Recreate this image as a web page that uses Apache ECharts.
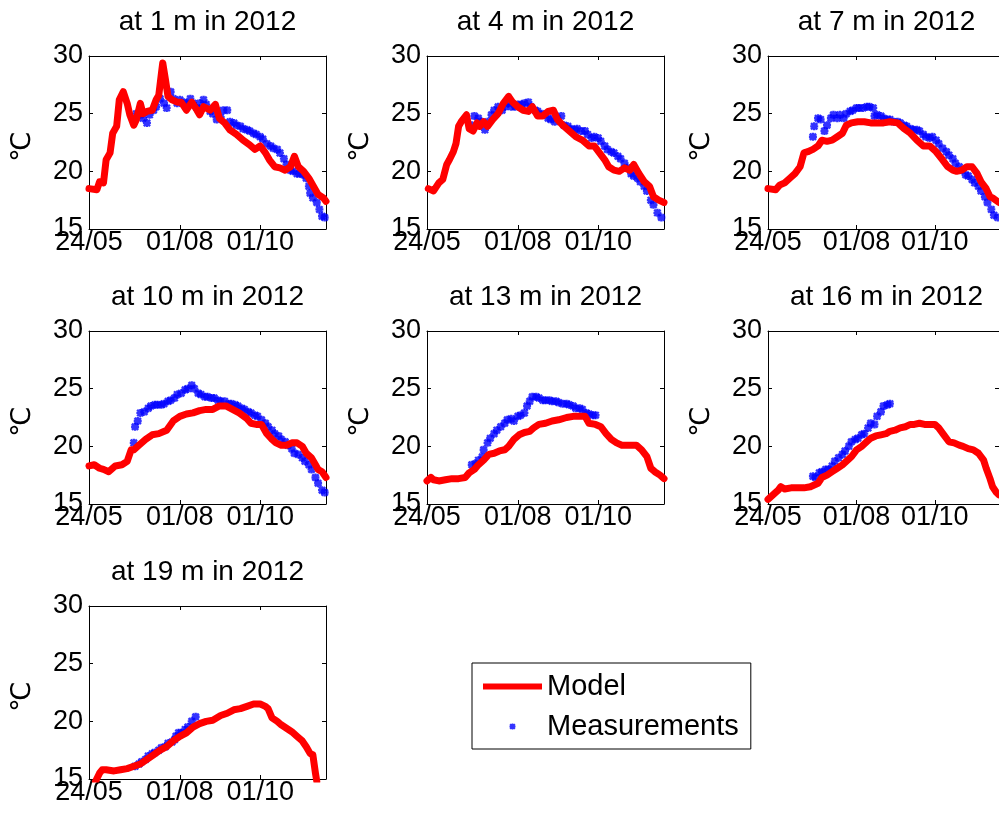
<!DOCTYPE html>
<html>
<head>
<meta charset="utf-8">
<title>Model vs measurements 2012</title>
<script src="https://cdn.jsdelivr.net/npm/echarts@6/dist/echarts.min.js"></script>
<style>
  html, body { margin: 0; padding: 0; background: #fff; }
  #chart { width: 999px; height: 818px; }
</style>
</head>
<body>
<div id="chart"></div>
<script>
// x is day of year 2012 (24/05 = 145, 01/08 = 214, 01/10 = 275)
var dayMin = 145, dayMax = 325;
var tickDays = [145, 214, 275];
var tickLabels = ['24/05', '01/08', '01/10'];
var tempMin = 15, tempMax = 30, tempStep = 5;
var depths = [1, 4, 7, 10, 13, 16, 19];

var model1 = [[145,18.5],[151,18.4],[153,19.1],[156,19.0],[158,21.0],[161,21.6],[163,23.3],[166,23.9],[168,26.2],[171,26.9],[174,25.9],[176,24.9],[179,24.0],[181,24.5],[184,25.9],[186,25.0],[189,25.2],[193,25.3],[196,26.2],[198,26.6],[200,28.5],[201,29.4],[202,29.3],[203,28.0],[205,26.5],[208,26.2],[212,26.0],[215,26.0],[219,25.3],[223,26.0],[227,25.3],[229,24.9],[232,25.6],[237,25.3],[241,25.8],[244,24.6],[248,24.2],[252,23.6],[257,23.2],[262,22.7],[267,22.3],[271,21.9],[275,22.2],[279,21.6],[282,21.0],[286,20.4],[290,20.3],[294,20.1],[298,20.4],[301,21.3],[304,20.4],[308,20.0],[312,19.4],[315,18.8],[319,18.0],[323,17.7],[325,17.4]];
var meas1 = [[179,24.3],[181,25.0],[184,24.9],[186,24.6],[189,24.2],[191,24.9],[194,25.3],[196,25.6],[199,26.3],[202,25.9],[204,25.5],[207,26.9],[209,26.3],[212,25.9],[214,26.2],[217,26.0],[219,25.9],[222,26.3],[224,25.9],[227,25.5],[229,25.9],[232,26.2],[234,25.8],[237,25.2],[239,25.0],[242,24.5],[245,24.7],[247,25.3],[250,25.3],[252,24.3],[255,24.2],[257,24.0],[260,23.9],[262,23.7],[265,23.6],[267,23.5],[270,23.3],[272,23.2],[275,23.0],[277,22.8],[280,22.4],[283,22.2],[285,22.0],[288,21.9],[290,21.6],[293,21.1],[295,20.6],[298,20.1],[300,20.0],[303,19.8],[305,19.8],[308,19.7],[310,19.4],[312,18.7],[313,18.1],[315,17.7],[318,17.3],[320,16.7],[322,16.1],[324,16.0]];

var model4 = [[146,18.5],[150,18.3],[154,19.0],[157,19.3],[160,20.6],[162,21.0],[165,21.7],[167,22.4],[169,23.9],[171,24.3],[175,24.9],[177,23.7],[180,23.5],[183,24.2],[185,23.9],[188,24.3],[191,23.9],[195,24.5],[199,25.0],[203,25.9],[207,26.5],[210,26.0],[214,25.6],[218,25.3],[222,25.2],[225,25.6],[229,24.8],[233,24.8],[237,25.2],[241,25.3],[244,24.5],[248,24.0],[253,23.5],[258,23.0],[263,22.7],[268,22.2],[272,22.2],[276,21.6],[280,21.0],[283,20.4],[287,20.1],[291,20.0],[295,20.3],[299,20.1],[302,20.6],[306,19.8],[310,19.1],[314,18.7],[317,17.8],[321,17.5],[325,17.3]];
var meas4 = [[179,24.0],[181,24.8],[184,24.6],[186,24.3],[189,23.6],[191,24.3],[194,24.9],[196,25.3],[199,25.6],[202,25.3],[204,25.6],[207,25.9],[209,25.6],[212,25.6],[214,25.8],[217,25.8],[219,25.9],[222,26.0],[224,25.6],[227,25.3],[229,25.2],[232,25.0],[234,24.9],[237,24.6],[239,24.5],[242,24.3],[244,24.6],[247,24.8],[249,24.0],[252,23.9],[254,23.7],[257,23.6],[259,23.7],[262,23.5],[265,23.5],[267,23.2],[270,22.9],[272,23.0],[275,22.9],[277,22.6],[280,22.2],[282,21.9],[285,21.7],[287,21.6],[290,21.3],[292,21.1],[295,20.7],[297,20.3],[300,19.8],[302,19.6],[305,19.4],[307,19.1],[310,18.7],[312,18.3],[315,17.5],[317,17.1],[320,16.4],[323,16.0]];

var model7 = [[145,18.5],[151,18.4],[154,18.8],[158,19.0],[162,19.4],[166,19.8],[170,20.4],[173,21.6],[176,21.7],[180,21.9],[184,22.2],[187,22.7],[191,22.6],[195,22.7],[199,23.0],[203,23.3],[206,24.0],[210,24.2],[215,24.3],[220,24.3],[225,24.2],[230,24.2],[235,24.2],[240,24.3],[246,24.2],[251,23.7],[256,23.3],[261,22.7],[266,22.2],[271,22.2],[276,21.7],[281,21.0],[285,20.4],[289,20.1],[292,20.0],[296,20.1],[300,20.4],[304,20.4],[308,19.8],[311,19.1],[315,18.5],[318,17.8],[320,17.7],[325,17.3]];
var meas7 = [[180,23.0],[181,23.9],[184,24.6],[186,24.5],[189,23.5],[191,24.0],[194,24.6],[196,24.9],[199,24.6],[201,24.9],[204,24.6],[206,25.0],[209,25.2],[211,25.3],[214,25.5],[216,25.5],[219,25.5],[222,25.6],[224,25.6],[227,25.5],[228,24.8],[230,24.9],[233,24.8],[235,24.6],[238,24.5],[240,24.5],[243,24.3],[246,24.3],[248,24.2],[251,24.0],[253,23.9],[256,23.7],[258,23.6],[261,23.6],[263,23.5],[266,23.2],[268,23.0],[271,22.9],[273,23.0],[276,22.7],[278,22.4],[281,22.0],[284,21.7],[286,21.4],[289,21.1],[291,20.7],[294,20.4],[296,20.1],[299,19.7],[301,19.6],[304,19.3],[306,19.0],[309,18.7],[311,18.3],[314,17.8],[316,17.3],[319,16.7],[321,16.2],[324,16.0]];

var model10 = [[145,18.3],[149,18.4],[153,18.1],[156,18.0],[160,17.8],[165,18.3],[170,18.4],[174,18.7],[177,19.7],[179,19.7],[183,20.1],[188,20.6],[193,21.0],[198,21.1],[204,21.4],[209,22.2],[214,22.6],[219,22.8],[224,22.9],[229,23.1],[234,23.2],[239,23.2],[244,23.5],[249,23.5],[254,23.2],[259,22.9],[265,22.4],[268,22.0],[272,21.9],[276,21.9],[280,21.1],[284,20.6],[287,20.3],[291,20.1],[295,20.1],[299,20.3],[303,20.3],[307,20.0],[310,19.4],[314,19.0],[317,18.4],[319,18.0],[322,17.8],[325,17.3]];
var meas10 = [[179,20.3],[180,21.7],[182,22.2],[184,22.9],[187,23.0],[190,23.3],[192,23.5],[195,23.6],[197,23.6],[200,23.6],[202,23.7],[205,23.9],[207,24.0],[210,24.2],[212,24.5],[215,24.6],[218,24.9],[220,25.0],[223,25.3],[225,25.0],[228,24.6],[230,24.5],[233,24.3],[235,24.3],[238,24.2],[240,24.2],[243,24.0],[245,23.9],[248,23.9],[251,23.7],[253,23.7],[256,23.6],[258,23.5],[261,23.3],[263,23.2],[266,23.0],[268,22.9],[271,22.7],[273,22.6],[276,22.3],[279,22.0],[281,21.7],[284,21.4],[286,21.1],[289,20.9],[291,20.6],[294,20.4],[296,20.1],[299,19.8],[301,19.4],[304,19.3],[307,19.0],[309,18.7],[312,18.4],[314,18.0],[317,17.3],[319,16.8],[322,16.2],[324,16.0]];

var model13 = [[145,17.0],[148,17.3],[150,17.1],[154,17.0],[159,17.1],[164,17.2],[169,17.2],[174,17.3],[177,17.7],[181,18.0],[184,18.4],[188,18.8],[192,19.3],[196,19.4],[200,19.6],[204,19.7],[207,20.0],[211,20.6],[215,21.0],[219,21.2],[223,21.3],[226,21.6],[230,21.9],[235,22.0],[240,22.2],[245,22.3],[251,22.5],[256,22.6],[261,22.6],[265,22.6],[268,22.0],[273,21.9],[277,21.7],[281,21.1],[285,20.6],[289,20.3],[293,20.1],[296,20.1],[300,20.1],[304,20.1],[308,19.7],[312,19.1],[315,18.1],[318,17.8],[322,17.5],[325,17.2]];
var meas13 = [[179,18.4],[182,18.5],[184,18.8],[187,19.1],[188,19.7],[191,20.3],[193,20.7],[196,21.1],[198,21.4],[201,21.7],[204,22.0],[206,22.3],[209,22.4],[211,22.2],[214,22.6],[216,22.7],[219,22.9],[221,23.5],[223,23.9],[225,24.3],[228,24.3],[230,24.2],[233,24.0],[235,24.0],[238,24.0],[240,23.9],[243,23.9],[245,23.8],[248,23.7],[251,23.7],[253,23.6],[256,23.5],[258,23.3],[261,23.3],[263,23.2],[266,22.9],[268,22.8],[271,22.7],[273,22.7]];

var model16 = [[145,15.4],[148,15.7],[151,16.0],[153,16.2],[155,16.5],[158,16.3],[163,16.4],[168,16.4],[173,16.4],[178,16.5],[184,16.8],[187,17.3],[191,17.5],[195,17.8],[199,18.1],[203,18.4],[206,18.7],[210,19.1],[214,19.7],[218,20.0],[222,20.4],[225,20.7],[229,20.9],[233,21.0],[237,21.1],[240,21.3],[244,21.4],[248,21.6],[252,21.7],[256,21.9],[259,21.9],[263,22.0],[267,21.9],[271,21.9],[275,21.9],[278,21.6],[282,21.0],[286,20.4],[290,20.3],[294,20.1],[297,20.0],[301,19.8],[305,19.7],[309,19.4],[313,18.8],[315,18.1],[318,17.2],[320,16.5],[323,16.0],[325,15.8]];
var meas16 = [[180,17.4],[182,17.3],[185,17.7],[187,17.8],[190,18.0],[192,18.0],[195,18.3],[197,18.7],[200,19.0],[203,19.3],[205,19.6],[208,20.0],[210,20.4],[213,20.6],[215,20.7],[218,21.0],[220,21.1],[223,21.6],[225,22.0],[228,21.9],[230,22.6],[233,23.0],[235,23.5],[238,23.6],[240,23.7]];

var model19 = [[150,14.8],[153,15.5],[155,15.8],[158,15.8],[164,15.7],[169,15.8],[174,15.9],[179,16.1],[184,16.3],[189,16.7],[194,17.1],[199,17.5],[204,17.8],[209,18.3],[214,18.7],[219,19.0],[224,19.5],[229,19.8],[234,20.0],[239,20.1],[245,20.5],[250,20.7],[255,21.0],[260,21.1],[265,21.3],[270,21.5],[275,21.5],[279,21.3],[281,21.1],[284,20.3],[288,20.0],[291,19.7],[295,19.4],[299,19.1],[303,18.7],[307,18.3],[310,17.8],[313,17.2],[315,17.1],[317,15.5],[318,14.8]];
var meas19 = [[180,16.1],[183,16.3],[185,16.5],[188,16.7],[190,17.0],[193,17.2],[195,17.3],[198,17.5],[200,17.7],[203,17.8],[205,18.1],[208,18.2],[210,18.4],[211,18.7],[213,19.0],[215,19.0],[218,19.3],[220,19.5],[223,20.0],[226,20.4]];

var modelData = [model1, model4, model7, model10, model13, model16, model19];
var measData = [meas1, meas4, meas7, meas10, meas13, meas16, meas19];

// layout of the 3x3 panel grid
var colLeft = [89, 427, 768];
var rowTop = [56, 331, 606];
var plotW = 237, plotH = 173;
var font = "'Liberation Sans', Arial, Helvetica, sans-serif";
var star = 'path://M3.5 0h3v10h-3zM0 3.5h10v3h-10zM0 2.1L2.1 0L10 7.9L7.9 10ZM7.9 0L10 2.1L2.1 10L0 7.9Z';

var myChart = echarts.init(document.getElementById('chart'));

var grids = [], xAxes = [], yAxes = [], series = [], texts = [];
depths.forEach(function (d, i) {
    var left = colLeft[i % 3], top = rowTop[Math.floor(i / 3)];
    var line = { show: true, onZero: false, lineStyle: { color: '#000', width: 1 } };
    var tickStyle = { color: '#000', width: 1 };
    grids.push({ left: left, top: top, width: plotW, height: plotH });

    // bottom + top (mirror) x axes
    xAxes.push({
        type: 'value', gridIndex: i, position: 'bottom', min: dayMin, max: dayMax,
        axisLine: line,
        axisTick: { show: true, inside: true, length: 4, customValues: tickDays, lineStyle: tickStyle },
        axisLabel: {
            customValues: tickDays, margin: 0, color: '#000', fontSize: 27, fontFamily: font,
            formatter: function (v) { var k = tickDays.indexOf(v); return k < 0 ? '' : tickLabels[k]; }
        },
        splitLine: { show: false }
    });
    xAxes.push({
        type: 'value', gridIndex: i, position: 'top', min: dayMin, max: dayMax,
        axisLine: line,
        axisTick: { show: true, inside: true, length: 4, customValues: tickDays, lineStyle: tickStyle },
        axisLabel: { show: false },
        splitLine: { show: false }
    });

    // left + right (mirror) y axes
    yAxes.push({
        type: 'value', gridIndex: i, position: 'left', min: tempMin, max: tempMax, interval: tempStep,
        axisLine: line,
        axisTick: { show: true, inside: true, length: 4, lineStyle: tickStyle },
        axisLabel: { margin: 6, color: '#000', fontSize: 27, fontFamily: font },
        splitLine: { show: false }
    });
    yAxes.push({
        type: 'value', gridIndex: i, position: 'right', min: tempMin, max: tempMax, interval: tempStep,
        axisLine: line,
        axisTick: { show: true, inside: true, length: 4, lineStyle: tickStyle },
        axisLabel: { show: false },
        splitLine: { show: false }
    });

    series.push({
        name: 'Model', type: 'line', xAxisIndex: 2 * i, yAxisIndex: 2 * i,
        data: modelData[i], color: '#ff0000', symbol: 'none', showSymbol: false,
        lineStyle: { color: '#ff0000', width: 7, join: 'round', cap: 'round' }
    });
    series.push({
        name: 'Measurements', type: 'scatter', xAxisIndex: 2 * i, yAxisIndex: 2 * i,
        data: measData[i], color: '#0000ff', symbol: star, symbolSize: 8,
        itemStyle: { color: '#0000ff' }
    });

    // panel title
    texts.push({
        type: 'text', x: left + plotW / 2, y: top - 33.5,
        style: {
            text: 'at ' + d + ' m in 2012', fill: '#000', fontSize: 28, fontFamily: font,
            align: 'center', verticalAlign: 'middle', textAlign: 'center', textVerticalAlign: 'middle'
        }
    });
    // rotated unit label on the y axis
    texts.push({
        type: 'text', x: left - 66, y: top + plotH / 2 + 4, rotation: Math.PI / 2,
        style: {
            text: '℃', fill: '#000', fontSize: 27, fontFamily: "'DejaVu Sans', sans-serif",
            align: 'center', verticalAlign: 'middle', textAlign: 'center', textVerticalAlign: 'middle'
        }
    });
});

option = {
    backgroundColor: '#fff',
    animation: false,
    grid: grids,
    xAxis: xAxes,
    yAxis: yAxes,
    graphic: texts,
    legend: {
        orient: 'vertical', left: 472, top: 663,
        padding: [9, 12, 8, 11],
        borderColor: '#000', borderWidth: 1,
        itemWidth: 59, itemHeight: 6, itemGap: 11,
        selectedMode: false,
        textStyle: { fontSize: 29, fontFamily: font, color: '#000' },
        data: [{ name: 'Model', icon: 'rect' }, { name: 'Measurements' }]
    },
    series: series
};
myChart.setOption(option);
</script>
</body>
</html>
